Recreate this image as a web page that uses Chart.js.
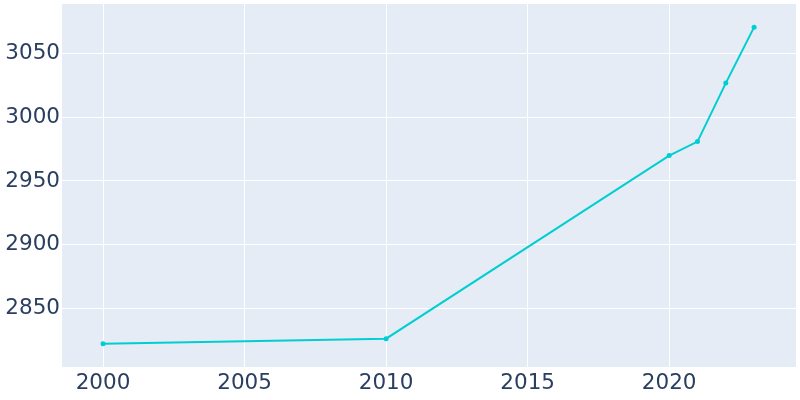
<!DOCTYPE html>
<html>
<head>
<meta charset="utf-8">
<script src="https://cdn.jsdelivr.net/npm/chart.js@4"></script>
<style>
  html, body { margin: 0; padding: 0; background: #fff; }
  canvas { display: block; }
</style>
</head>
<body>
<canvas id="grafica" width="800" height="400"></canvas>
<script>
// Datos
const years = [2000, 2010, 2020, 2021, 2022, 2023];
const population = [2822, 2826, 2970, 2981, 3027, 3071];
const xTicks = [2000, 2005, 2010, 2015, 2020];
const yTicks = [2850, 2900, 2950, 3000, 3050];

// Fondo del área de la gráfica
const plotBg = {
    id: "plotBg",
    beforeDraw(chart) {
        const { ctx, chartArea: a } = chart;
        ctx.save();
        ctx.fillStyle = "#E5ECF6";
        ctx.fillRect(a.left, a.top, a.right - a.left, a.bottom - a.top);
        ctx.restore();
    }
};

const font = { family: "DejaVu Sans", size: 21.5 };

new Chart(document.getElementById("grafica"), {
    type: "line",
    data: {
        datasets: [
            {
                data: years.map((y, i) => ({ x: y, y: population[i] })),
                borderColor: "#00CED1",
                backgroundColor: "#00CED1",
                pointBackgroundColor: "#00CED1",
                borderWidth: 2,
                pointRadius: 2.5,
                pointBorderWidth: 0,
                tension: 0
            }
        ]
    },
    options: {
        responsive: false,
        animation: false,
        devicePixelRatio: 1,
        layout: { padding: { top: 3, right: 4, left: 0, bottom: 0 } },
        plugins: { legend: { display: false }, tooltip: { enabled: false } },
        scales: {
            x: {
                type: "linear",
                min: 1998.55,
                max: 2024.48,
                afterBuildTicks: s => { s.ticks = xTicks.map(v => ({ value: v })); },
                afterFit: s => { s.height = 33; s.paddingLeft = 0; s.paddingRight = 0; },
                grid: { color: "#ffffff", lineWidth: 1, drawTicks: false },
                border: { display: false },
                ticks: { color: "#2a3f5f", font, padding: 4, maxRotation: 0, autoSkip: false, callback: v => String(v) }
            },
            y: {
                min: 2803.7,
                max: 3089.2,
                afterBuildTicks: s => { s.ticks = yTicks.map(v => ({ value: v })); },
                afterFit: s => { s.width = 62; s.paddingTop = 0; s.paddingBottom = 0; },
                grid: { color: "#ffffff", lineWidth: 1, drawTicks: false },
                border: { display: false },
                ticks: { color: "#2a3f5f", font, padding: 2, autoSkip: false, callback: v => String(v) }
            }
        }
    },
    plugins: [plotBg]
});
</script>
</body>
</html>
